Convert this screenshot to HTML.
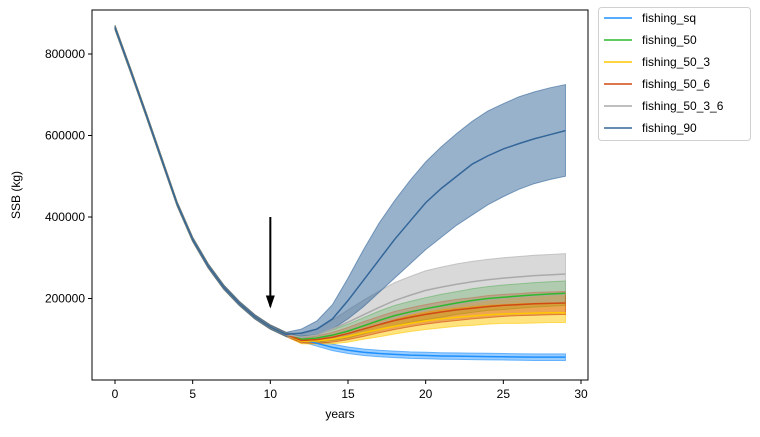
<!DOCTYPE html>
<html><head><meta charset="utf-8"><style>
body{margin:0;background:#fff;}
svg text{font-family:"Liberation Sans","DejaVu Sans",sans-serif;font-size:12px;fill:#000;}
</style></head><body>
<svg id="c" width="760" height="432" xmlns="http://www.w3.org/2000/svg"></svg>
<script>
const base=[865000,760000,652000,542000,432000,345000,280000,228000,188000,155000,130000,112000];
const yearsTail=[12,13,14,15,16,17,18,19,20,21,22,23,24,25,26,27,28,29];
const sqMid=[100000,90000,80000,73000,68000,65000,63000,61000,60000,59000,58500,58000,57500,57000,56500,56000,56000,56000];
const sqW=[6000,7000,8000,8000,8000,8000,8000,8000,8000,8000,8000,8000,8000,8000,8000,8000,8000,8000];
const f50Mid=[100000,103000,110000,120000,133000,146000,158000,167000,175000,182000,189000,195000,200000,203000,206000,209000,211000,213000];
const f50W=[6000,9000,13000,17000,20000,23000,25000,26000,27000,28000,28000,29000,29000,30000,30000,30000,30000,30000];
const f503Mid=[95000,96000,100000,107000,116000,124000,132000,139000,145000,150000,154000,157000,160000,162000,163000,164000,165000,165000];
const f503W=[6000,8000,11000,14000,16000,18000,19000,20000,21000,22000,22000,23000,23000,23000,24000,24000,24000,24000];
const f506Mid=[97000,99000,105000,114000,125000,136000,146000,154000,161000,167000,172000,176000,180000,183000,185000,187000,188000,189000];
const f506W=[6000,9000,12000,15000,18000,20000,22000,23000,24000,25000,26000,26000,27000,27000,27000,28000,28000,28000];
const f5036Mid=[105000,110000,125000,142000,160000,178000,195000,208000,220000,228000,235000,241000,246000,250000,253000,256000,258000,260000];
const f5036W=[8000,14000,22000,30000,36000,40000,44000,46000,48000,49000,50000,50000,50000,50000,50000,50000,50000,50000];
const f90Mid=[115000,125000,150000,195000,245000,295000,345000,390000,435000,470000,500000,530000,550000,567000,580000,592000,602000,612000];
const f90Lo=[108000,110000,125000,150000,180000,215000,250000,285000,320000,350000,380000,405000,430000,450000,468000,482000,492000,500000];
const f90Hi=[125000,145000,185000,250000,320000,385000,440000,490000,535000,572000,605000,635000,660000,678000,695000,707000,717000,725000];
const xTicks=[0,5,10,15,20,25,30];
const yTicks=[200000,400000,600000,800000];

const L=92,R=588,T=10,B=380;
const X=v=>115+v*(581-115)/30;
const Y=v=>380-v*(380-298.5)/200000;
const svg=document.getElementById('c');
const NS='http://www.w3.org/2000/svg';
function mk(t,a,p){const e=document.createElementNS(NS,t);for(const k in a)e.setAttribute(k,a[k]);(p||svg).appendChild(e);return e;}

const series=[
 {name:'fishing_sq',col:'#1e90ff',mid:sqMid,lo:sqMid.map((v,i)=>v-sqW[i]),hi:sqMid.map((v,i)=>v+sqW[i]),a:0.45},
 {name:'fishing_50',col:'#2db82d',mid:f50Mid,lo:f50Mid.map((v,i)=>v-f50W[i]),hi:f50Mid.map((v,i)=>v+f50W[i]),a:0.35},
 {name:'fishing_50_3',col:'#ffc800',mid:f503Mid,lo:f503Mid.map((v,i)=>v-f503W[i]),hi:f503Mid.map((v,i)=>v+f503W[i]),a:0.5},
 {name:'fishing_50_6',col:'#d04a12',mid:f506Mid,lo:f506Mid.map((v,i)=>v-f506W[i]),hi:f506Mid.map((v,i)=>v+f506W[i]),a:0.4},
 {name:'fishing_50_3_6',col:'#aaaaaa',mid:f5036Mid,lo:f5036Mid.map((v,i)=>v-f5036W[i]),hi:f5036Mid.map((v,i)=>v+f5036W[i]),a:0.45},
 {name:'fishing_90',col:'#336699',mid:f90Mid,lo:f90Lo,hi:f90Hi,a:0.5}
];
const baseYears=base.map((v,i)=>i);
const bandW=base.map(v=>5000);
series.forEach(s=>{
  const yrs=baseYears.concat(yearsTail);
  const lo=base.map((v,i)=>v-bandW[i]).concat(s.lo);
  const hi=base.map((v,i)=>v+bandW[i]).concat(s.hi);
  let d='M'+yrs.map((x,i)=>X(x)+','+Y(hi[i])).join('L');
  d+='L'+yrs.slice().reverse().map((x,j)=>X(x)+','+Y(lo[yrs.length-1-j])).join('L')+'Z';
  const b=mk('path',{d:d,fill:s.col,'fill-opacity':s.a,stroke:s.col,'stroke-opacity':0.6,'stroke-width':1});
  
  
});
series.forEach(s=>{
  const yrs=baseYears.concat(yearsTail);
  const m=base.concat(s.mid);
  const l=mk('polyline',{points:yrs.map((x,i)=>X(x)+','+Y(m[i])).join(' '),fill:'none',stroke:s.col,'stroke-width':1.5});
  
  
});
const ar=mk('line',{x1:X(10),y1:Y(400000),x2:X(10),y2:Y(200000)+8,stroke:'#000','stroke-width':2});


mk('polygon',{points:`${X(10)-4.5},${Y(200000)-3} ${X(10)+4.5},${Y(200000)-3} ${X(10)},${Y(200000)+10}`,fill:'#000'});
const fr=mk('rect',{x:L,y:T,width:R-L,height:B-T,fill:'none',stroke:'#000','stroke-width':1});


xTicks.forEach(t=>{
  mk('line',{x1:X(t),x2:X(t),y1:B,y2:B+4,stroke:'#000'});
  const tx=mk('text',{x:X(t),y:B+18,'text-anchor':'middle'});tx.textContent=t;
  
  
});
yTicks.forEach(t=>{
  mk('line',{x1:L-4,x2:L,y1:Y(t),y2:Y(t),stroke:'#000'});
  const tx=mk('text',{x:L-7,y:Y(t)+4,'text-anchor':'end'});tx.textContent=t;
  
  
});
const xt=mk('text',{x:340,y:418,'text-anchor':'middle'});xt.textContent='years';


const yt=mk('text',{x:20,y:195,'text-anchor':'middle',transform:'rotate(-90 20 195)'});yt.textContent='SSB (kg)';


const lg=mk('rect',{x:598.5,y:7.5,width:152,height:133,rx:3,fill:'#fff',stroke:'#d0d0d0'});


series.forEach((s,i)=>{
  const y=18+i*22;
  const g=mk('g',{});
  
  
  mk('line',{x1:604,x2:632,y1:y,y2:y,stroke:s.col,'stroke-width':1.5},g);
  const t=mk('text',{x:642,y:y+4},g);t.textContent=s.name;
});
</script>
</body></html>
